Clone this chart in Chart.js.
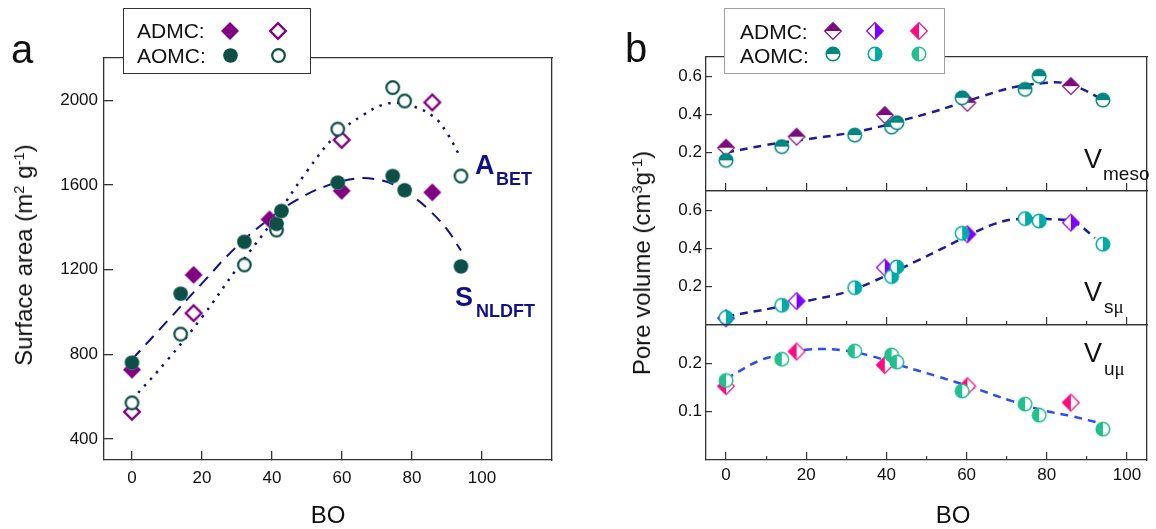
<!DOCTYPE html>
<html>
<head>
<meta charset="utf-8">
<title>Surface area and pore volume vs BO</title>
<script src="https://cdn.jsdelivr.net/npm/chart.js@4.4.1/dist/chart.umd.min.js"></script>
<style>
  html, body { margin: 0; padding: 0; background: #fff; }
  #page { position: relative; width: 1156px; height: 529px; overflow: hidden; font-family: "Liberation Sans", Arial, sans-serif; color: #111; }
  #page canvas.chart { position: absolute; top: 0; }
  .t { position: absolute; white-space: nowrap; line-height: 1; }
  .box { position: absolute; box-sizing: border-box; background: #fff; }
  .ytitle { position: absolute; white-space: nowrap; font-size: 24px; line-height: 1; transform: translate(-50%, -50%) rotate(-90deg); }
  .xtitle { position: absolute; white-space: nowrap; font-size: 24px; line-height: 1; transform: translate(-50%, -50%); }
  sup { font-size: 62%; vertical-align: 0.55em; line-height: 0; }
  .mu { font-family: "Liberation Serif", "DejaVu Serif", serif; }
  .lab { color: #10108a; font-weight: bold; }
</style>
</head>
<body>
<div id="page">
  <canvas id="chartA" class="chart" width="578" height="529" style="left:0"></canvas>
  <canvas id="chartMeso" class="chart" width="556" height="529" style="left:600px"></canvas>
  <canvas id="chartSmu" class="chart" width="556" height="529" style="left:600px"></canvas>
  <canvas id="chartUmu" class="chart" width="556" height="529" style="left:600px"></canvas>

  <div class="t" style="left:11px;top:29px;font-size:40px">a</div>
  <div class="t" style="left:625px;top:28px;font-size:40px">b</div>

  <div class="box" style="left:123px;top:8px;width:188px;height:66px;border:1.3px solid #333"></div>
  <div class="t" style="left:137px;top:20px;font-size:21px">ADMC:</div>
  <div class="t" style="left:137px;top:45px;font-size:21px">AOMC:</div>

  <div class="box" style="left:724px;top:8px;width:221px;height:66px;border:1px solid #a0a0a0"></div>
  <div class="t" style="left:740px;top:21px;font-size:21px">ADMC:</div>
  <div class="t" style="left:740px;top:45px;font-size:21px">AOMC:</div>

  <div class="ytitle" style="left:24px;top:255px">Surface area (m<sup>2</sup> g<sup>-1</sup>)</div>
  <div class="xtitle" style="left:328px;top:515px">BO</div>
  <div class="ytitle" style="left:642px;top:263px">Pore volume (cm<sup>3</sup>g<sup>-1</sup>)</div>
  <div class="xtitle" style="left:953px;top:515px">BO</div>

  <div class="t lab" style="left:475px;top:152px;font-size:27px">A</div>
  <div class="t lab" style="left:496px;top:170px;font-size:18px">BET</div>
  <div class="t lab" style="left:455px;top:284px;font-size:27px">S</div>
  <div class="t lab" style="left:476px;top:302px;font-size:18px">NLDFT</div>

  <div class="t" style="left:1084px;top:146px;font-size:27px">V</div>
  <div class="t" style="left:1103px;top:164px;font-size:19px">meso</div>
  <div class="t" style="left:1084px;top:279px;font-size:27px">V</div>
  <div class="t" style="left:1104px;top:297px;font-size:19px">s<span class="mu">μ</span></div>
  <div class="t" style="left:1084px;top:340px;font-size:27px">V</div>
  <div class="t" style="left:1104px;top:359px;font-size:19px">u<span class="mu">μ</span></div>
</div>

<script>
const frameColor = "#333"
const fontFamily = "'Liberation Sans', Arial, sans-serif"
const tickFont = { family: fontFamily, size: 17 }

// panel a: surface area (m2/g) vs BO
const admcSX = [0, 17.6, 39.3, 59.9, 85.8]
const admcSY = [727, 1175, 1437, 1572, 1565]
const admcAX = [0, 17.6, 59.9, 85.8]
const admcAY = [528, 994, 1813, 1990]
const aomcSX = [0, 13.9, 32.1, 41.3, 42.7, 58.8, 74.5, 77.9, 94]
const aomcSY = [760, 1086, 1331, 1416, 1477, 1611, 1642, 1575, 1215]
const aomcAX = [0, 13.9, 32.1, 41.3, 58.8, 74.5, 77.9, 94]
const aomcAY = [570, 895, 1222, 1387, 1864, 2060, 1997, 1642]
const fitSX = [0, 10, 20, 30, 40, 47, 55, 64, 70, 75, 81, 85, 90, 94]
const fitSY = [775, 955, 1135, 1310, 1450, 1528, 1592, 1630, 1626, 1600, 1536, 1480, 1390, 1290]
const fitAX = [0, 10, 20, 30, 40, 50, 58, 66, 73, 79, 86, 90, 94]
const fitAY = [585, 770, 975, 1205, 1425, 1665, 1830, 1930, 1985, 1978, 1925, 1845, 1725]
const xTicksA = [0, 20, 40, 60, 80, 100]
const yTicksA = [400, 800, 1200, 1600, 2000]

// panel b: pore volume (cm3/g) vs BO
const admcX = [0, 17.6, 39.6, 60.2, 86]
const aomcX = [0, 13.9, 32.1, 41.3, 42.6, 58.9, 74.6, 78.1, 94]
const mesoAdmc = [0.226, 0.284, 0.397, 0.461, 0.548]
const mesoAomc = [0.160, 0.232, 0.292, 0.334, 0.357, 0.487, 0.531, 0.600, 0.475]
const smuAdmc = [0.035, 0.125, 0.300, 0.474, 0.535]
const smuAomc = [0.039, 0.103, 0.195, 0.253, 0.303, 0.479, 0.556, 0.543, 0.422]
const umuAdmc = [0.153, 0.225, 0.197, 0.153, 0.119]
const umuAomc = [0.165, 0.209, 0.226, 0.218, 0.203, 0.143, 0.116, 0.093, 0.064]
const fitMesoX = [0, 10, 20, 30, 35, 40, 44, 51, 57.5, 64, 72, 80, 84, 89, 93]
const fitMesoY = [0.20, 0.24, 0.27, 0.30, 0.32, 0.345, 0.369, 0.409, 0.452, 0.496, 0.543, 0.565, 0.565, 0.531, 0.487]
const fitSmuX = [0, 12, 22, 30, 37, 47.6, 54, 61.6, 67, 72, 82, 87, 92]
const fitSmuY = [0.045, 0.09, 0.134, 0.172, 0.23, 0.335, 0.40, 0.48, 0.528, 0.552, 0.552, 0.535, 0.455]
const fitUmuX = [0, 8, 14, 20.5, 28.7, 36, 44, 52.5, 61.6, 71.4, 79.6, 86.2, 94.4]
const fitUmuY = [0.168, 0.205, 0.219, 0.229, 0.228, 0.216, 0.195, 0.174, 0.150, 0.122, 0.102, 0.091, 0.074]
const xTicksB = [0, 20, 40, 60, 80, 100]
const xMinorB = [10, 30, 50, 70, 90]
const yTicksMeso = [0.2, 0.4, 0.6]
const yTicksSmu = [0.2, 0.4, 0.6]
const yTicksUmu = [0.1, 0.2]

function pts(xs, ys) {
    return xs.map((x, i) => ({ x: x, y: ys[i] }))
}

function makeMarker(shape, half, color, r, lw) {
    const size = Math.ceil(2 * r + lw + 2)
    const c = document.createElement("canvas")
    c.width = size
    c.height = size
    const g = c.getContext("2d")
    const m = size / 2

    function outline() {
        g.beginPath()
        if (shape === "diamond") {
            g.moveTo(m - r, m)
            g.lineTo(m, m - r)
            g.lineTo(m + r, m)
            g.lineTo(m, m + r)
            g.closePath()
        } else {
            g.arc(m, m, r, 0, Math.PI * 2)
        }
    }

    outline()
    g.fillStyle = "#fff"
    g.fill()

    if (half !== "none") {
        g.save()
        outline()
        g.clip()
        g.fillStyle = color
        if (half === "full") g.fillRect(0, 0, size, size)
        else if (half === "top") g.fillRect(0, 0, size, m)
        else if (half === "left") g.fillRect(0, 0, m, size)
        else if (half === "right") g.fillRect(m, 0, size, size)
        g.restore()
    }

    if (lw > 0) {
        outline()
        g.strokeStyle = color
        g.lineWidth = lw
        g.stroke()
    }
    return c
}

const purple = "#820082"
const darkTeal = "#0b4f46"

const markerStyles = {
    admcS: () => makeMarker("diamond", "full", purple, 9, 0),
    admcA: () => makeMarker("diamond", "none", purple, 7.8, 2.4),
    aomcS: () => makeMarker("circle", "full", darkTeal, 7.3, 0),
    aomcA: () => makeMarker("circle", "none", darkTeal, 6.3, 2.2),
    mesoD: () => makeMarker("diamond", "top", "#7d0a7d", 8.3, 1.2),
    smuD: () => makeMarker("diamond", "right", "#8000ff", 8.3, 1.2),
    umuD: () => makeMarker("diamond", "left", "#ff0a80", 8.3, 1.2),
    mesoC: () => makeMarker("circle", "top", "#00877f", 6.8, 1.5),
    smuC: () => makeMarker("circle", "right", "#00aaa6", 6.8, 1.5),
    umuC: () => makeMarker("circle", "left", "#22bf8f", 6.8, 1.5)
}

function markerSet(xs, ys, styleName) {
    return {
        data: pts(xs, ys),
        pointStyle: markerStyles[styleName](),
        pointRadius: 8,
        showLine: false,
        clip: false
    }
}

function fitSet(xs, ys, color, dash, width) {
    return {
        data: pts(xs, ys),
        showLine: true,
        pointRadius: 0,
        borderColor: color,
        borderWidth: width,
        borderDash: dash,
        tension: 0.4,
        fill: false
    }
}

function fixedTicks(list) {
    return (scale) => { scale.ticks = list.map(v => ({ value: v })) }
}

function frameScale(position, min, max) {
    return {
        type: "linear",
        position: position,
        min: min,
        max: max,
        afterFit: (s) => {
            if (position === "top") s.height = 0
            else s.width = 0
        },
        ticks: { display: false },
        grid: { display: false },
        border: { color: frameColor, width: 1.3 }
    }
}

function buildChart(id, datasets, padding, scales) {
    return new Chart(document.getElementById(id), {
        type: "scatter",
        data: { datasets: datasets },
        options: {
            responsive: false,
            animation: false,
            devicePixelRatio: 1,
            events: [],
            layout: { padding: padding },
            plugins: { legend: { display: false }, tooltip: { enabled: false } },
            scales: scales
        }
    })
}

// panel a
buildChart("chartA", [
    markerSet(aomcSX, aomcSY, "aomcS"),
    markerSet(aomcAX, aomcAY, "aomcA"),
    markerSet(admcSX, admcSY, "admcS"),
    markerSet(admcAX, admcAY, "admcA"),
    fitSet(fitSX, fitSY, "#10108a", [12, 8], 2),
    fitSet(fitAX, fitAY, "#10108a", [2.5, 6.5], 2.5)
], { left: 0, top: 58, right: 26, bottom: 29 }, {
    x: {
        type: "linear",
        min: -8,
        max: 120,
        afterFit: (s) => { s.height = 40 },
        afterBuildTicks: fixedTicks(xTicksA),
        ticks: { font: tickFont, color: "#111", padding: 17, callback: v => String(v) },
        grid: { drawOnChartArea: false, tickLength: -9, color: frameColor, lineWidth: 1.3 },
        border: { color: frameColor, width: 1.3 }
    },
    y: {
        type: "linear",
        min: 300,
        max: 2200,
        afterFit: (s) => { s.width = 104 },
        afterBuildTicks: fixedTicks(yTicksA),
        ticks: { font: tickFont, color: "#111", padding: 15, callback: v => String(v) },
        grid: { drawOnChartArea: false, tickLength: -9, color: frameColor, lineWidth: 1.3 },
        border: { color: frameColor, width: 1.3 }
    },
    xTop: frameScale("top", -8, 120),
    yRight: frameScale("right", 300, 2200)
})

// panel b, three stacked sub-panels sharing the BO axis
function porePanel(id, datasets, yMax, yTicks, top, bottomPad, showX) {
    return buildChart(id, datasets, { left: 0, top: top, right: 4, bottom: bottomPad }, {
        x: {
            type: "linear",
            min: -5,
            max: 105,
            afterFit: (s) => { s.height = showX ? 40 : 0 },
            afterBuildTicks: fixedTicks(xTicksB),
            ticks: { display: showX, font: tickFont, color: "#111", padding: 13, callback: v => String(v) },
            grid: { drawOnChartArea: false, tickLength: -8, color: frameColor, lineWidth: 1.2 },
            border: { color: frameColor, width: 1.3 }
        },
        y: {
            type: "linear",
            min: 0,
            max: yMax,
            afterFit: (s) => { s.width = 106 },
            afterBuildTicks: fixedTicks(yTicks),
            ticks: { font: tickFont, color: "#111", padding: 10, callback: v => v.toFixed(1) },
            grid: { drawOnChartArea: false, tickLength: -6, color: frameColor, lineWidth: 1.2 },
            border: { color: frameColor, width: 1.3 }
        },
        xMinor: {
            type: "linear",
            min: -5,
            max: 105,
            position: { y: 0 },
            afterBuildTicks: fixedTicks(xMinorB),
            ticks: { display: false },
            grid: { drawOnChartArea: false, tickLength: -4, color: frameColor, lineWidth: 1.2 },
            border: { display: false }
        },
        xTop: frameScale("top", -5, 105),
        yRight: frameScale("right", 0, yMax)
    })
}

porePanel("chartMeso", [
    markerSet(aomcX, mesoAomc, "mesoC"),
    markerSet(admcX, mesoAdmc, "mesoD"),
    fitSet(fitMesoX, fitMesoY, "#1c1c9c", [8, 6], 2.5)
], 0.7, yTicksMeso, 57, 338, false)

porePanel("chartSmu", [
    markerSet(aomcX, smuAomc, "smuC"),
    markerSet(admcX, smuAdmc, "smuD"),
    fitSet(fitSmuX, fitSmuY, "#1c1c9c", [8, 6], 2.5)
], 0.7, yTicksSmu, 191, 204, false)

porePanel("chartUmu", [
    markerSet(aomcX, umuAomc, "umuC"),
    markerSet(admcX, umuAdmc, "umuD"),
    fitSet(fitUmuX, fitUmuY, "#2a4bff", [8, 6], 2.5)
], 0.28, yTicksUmu, 325, 29, true)

// legend glyphs
const page = document.getElementById("page")

function placeMark(name, cx, cy) {
    const c = markerStyles[name]()
    c.style.position = "absolute"
    c.style.left = (cx - c.width / 2) + "px"
    c.style.top = (cy - c.height / 2) + "px"
    page.appendChild(c)
}

placeMark("admcS", 230, 31)
placeMark("admcA", 278, 31)
placeMark("aomcS", 230, 55)
placeMark("aomcA", 278, 55)

placeMark("mesoD", 833, 31)
placeMark("smuD", 875, 31)
placeMark("umuD", 919, 31)
placeMark("mesoC", 833, 54)
placeMark("smuC", 875, 54)
placeMark("umuC", 919, 54)
</script>
</body>
</html>
